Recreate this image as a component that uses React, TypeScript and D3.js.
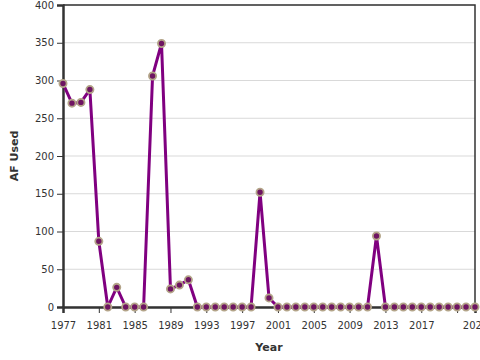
import React, { useRef, useEffect } from 'react';
import * as d3 from 'd3';

// Years shown on the chart and the acre-feet used in each one
const years: number[] = d3.range(1977, 2024);
const afUsed: number[] = [
  296, 270, 271, 288, 87, 0, 26, 0, 0, 0,
  306, 349, 24, 29, 36, 0, 0, 0, 0, 0,
  0, 0, 152, 12, 0, 0, 0, 0, 0, 0,
  0, 0, 0, 0, 0, 94, 0, 0, 0, 0,
  0, 0, 0, 0, 0, 0, 0,
];
const yTicks: number[] = [0, 50, 100, 150, 200, 250, 300, 350, 400];
const xTicks: number[] = [1977, 1981, 1985, 1989, 1993, 1997, 2001, 2005, 2009, 2013, 2017, 2021, 2023];
// 2021 keeps its tick but its label got dropped (overlaps the last one)
const hiddenLabels: number[] = [2021];

const App = () => {
  const svgRef = useRef<SVGSVGElement>(null);

  useEffect(() => {
    if (!svgRef.current) return;

    const width = 480;
    const height = 360;
    const margin = { top: 5, right: 5, bottom: 53, left: 63 };
    const innerWidth = width - margin.left - margin.right;
    const innerHeight = height - margin.top - margin.bottom;

    d3.select(svgRef.current).selectAll('*').remove();

    const svg = d3.select(svgRef.current)
      .attr('width', width)
      .attr('height', height);

    const g = svg.append('g')
      .attr('transform', `translate(${margin.left},${margin.top})`);

    const data = years.map((year, i) => ({ year, value: afUsed[i] }));

    const xScale = d3.scaleLinear()
      .domain([1977, 2023])
      .range([0, innerWidth]);

    const yScale = d3.scaleLinear()
      .domain([0, 400])
      .range([innerHeight, 0]);

    // Horizontal gridlines
    g.append('g')
      .selectAll('line')
      .data(yTicks)
      .enter()
      .append('line')
      .attr('x1', 0)
      .attr('x2', innerWidth)
      .attr('y1', d => yScale(d))
      .attr('y2', d => yScale(d))
      .attr('stroke', '#d9d9d9')
      .attr('stroke-width', 1);

    // Frame on the top and right
    g.append('path')
      .attr('d', `M0,${yScale(400)}H${innerWidth}V${innerHeight}`)
      .attr('fill', 'none')
      .attr('stroke', '#333')
      .attr('stroke-width', 1.5);

    // Axes
    const xAxis = g.append('g')
      .attr('transform', `translate(0,${innerHeight})`)
      .call(
        d3.axisBottom(xScale)
          .tickValues(xTicks)
          .tickFormat(d => (hiddenLabels.includes(+d) ? '' : d3.format('d')(+d)))
          .tickSizeOuter(0)
          .tickSize(6)
      );

    const yAxis = g.append('g')
      .call(
        d3.axisLeft(yScale)
          .tickValues(yTicks)
          .tickSizeOuter(0)
          .tickSize(6)
      );

    [xAxis, yAxis].forEach(ax => {
      ax.select('.domain').attr('stroke', '#333').attr('stroke-width', 2.5);
      ax.selectAll('.tick line').attr('stroke', '#333');
      ax.selectAll('.tick text')
        .attr('fill', '#333')
        .style('font-family', 'DejaVu Sans, sans-serif')
        .style('font-size', '10px');
    });
    xAxis.selectAll('.tick text').attr('dy', '1.05em').attr('y', 11);

    // The line
    const line = d3.line<{ year: number; value: number }>()
      .x(d => xScale(d.year))
      .y(d => yScale(d.value));

    g.append('path')
      .datum(data)
      .attr('d', line)
      .attr('fill', 'none')
      .attr('stroke', '#800080')
      .attr('stroke-width', 3)
      .attr('stroke-linejoin', 'round');

    // Points
    g.selectAll('.point')
      .data(data)
      .enter()
      .append('circle')
      .attr('class', 'point')
      .attr('cx', d => xScale(d.year))
      .attr('cy', d => yScale(d.value))
      .attr('r', 3.6)
      .attr('fill', '#6e1462')
      .attr('stroke', '#b3a488')
      .attr('stroke-width', 1.8);

    // Axis titles
    svg.append('text')
      .attr('x', margin.left + innerWidth / 2)
      .attr('y', height - 9)
      .attr('text-anchor', 'middle')
      .style('font-family', 'DejaVu Sans, sans-serif')
      .style('font-size', '11px')
      .style('font-weight', 'bold')
      .attr('fill', '#333')
      .text('Year');

    svg.append('text')
      .attr('transform', 'rotate(-90)')
      .attr('x', -(margin.top + innerHeight / 2))
      .attr('y', 18)
      .attr('text-anchor', 'middle')
      .style('font-family', 'DejaVu Sans, sans-serif')
      .style('font-size', '11px')
      .style('font-weight', 'bold')
      .attr('fill', '#333')
      .text('AF Used');
  }, []);

  return (
    <svg ref={svgRef} style={{ position: 'absolute', left: 0, top: 0 }}></svg>
  );
};

export default App;
